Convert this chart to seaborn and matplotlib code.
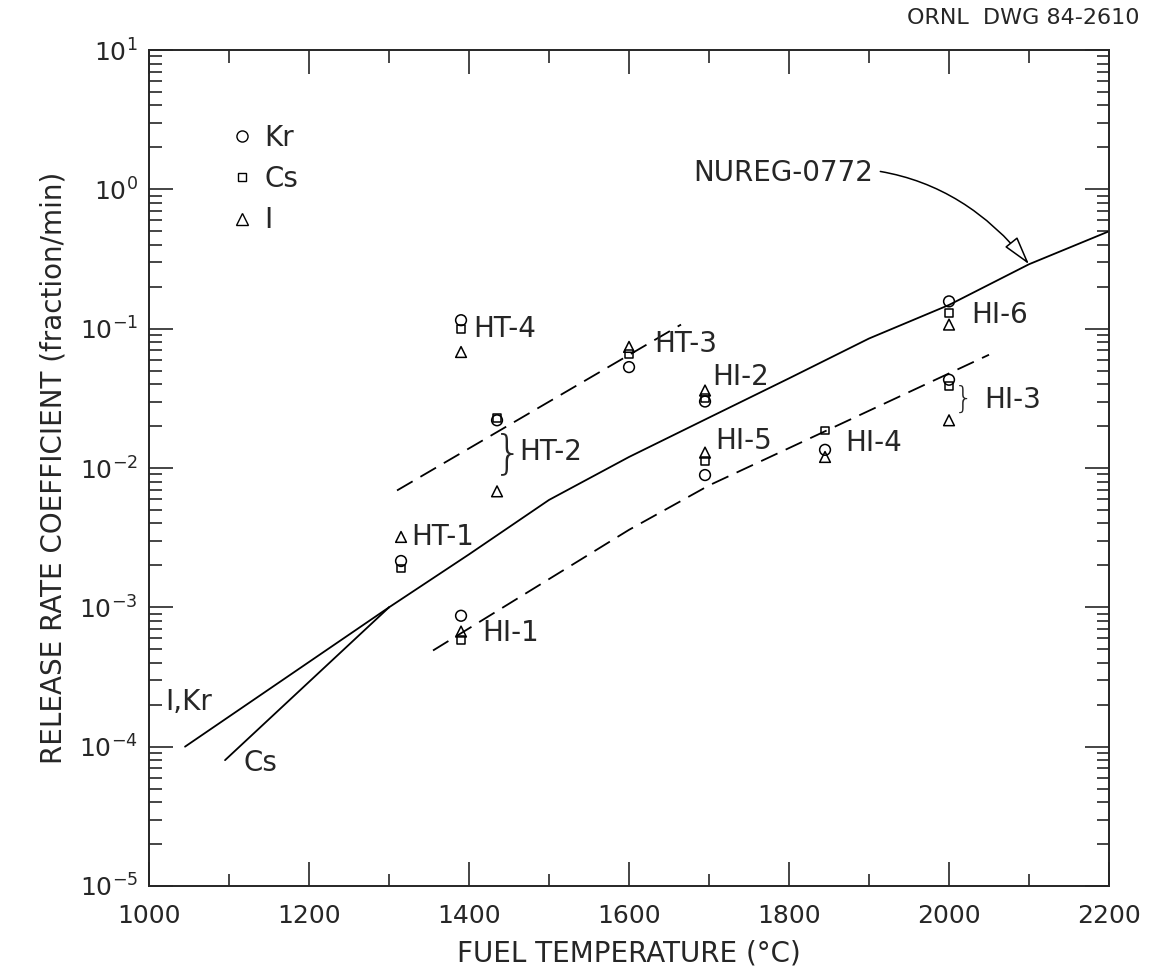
import numpy as np
import pandas as pd
import seaborn as sns
import matplotlib.pyplot as plt
from matplotlib.lines import Line2D
from matplotlib.ticker import MultipleLocator, FixedLocator

# curves (temperature in C, release rate coefficient in fraction/min)
nureg_t = [1300, 1400, 1500, 1600, 1700, 1800, 1900, 2000, 2100, 2200]
nureg_v = [1.0e-3, 2.4e-3, 5.9e-3, 1.2e-2, 2.3e-2, 4.4e-2, 8.5e-2, 0.148, 0.29, 0.50]
ikr_t = [1045, 1300]
ikr_v = [1.0e-4, 1.0e-3]
cs_t = [1095, 1300]
cs_v = [8.0e-5, 1.0e-3]
ht_dash_t = [1310, 1665]
ht_dash_v = [6.9e-3, 0.107]
hi_dash_t = [1355, 1600, 1700, 2050]
hi_dash_v = [4.9e-4, 3.6e-3, 7.5e-3, 6.5e-2]

# measured points per test
tests = ['HT-1', 'HT-4', 'HI-1', 'HT-2', 'HT-3', 'HI-2', 'HI-5', 'HI-4', 'HI-6', 'HI-3']
test_temp = [1315, 1390, 1390, 1435, 1600, 1695, 1695, 1845, 2000, 2000]
kr_rate = [2.15e-3, 0.115, 8.7e-4, 0.022, 0.053, 0.030, 0.0089, 0.0135, 0.157, 0.043]
cs_rate = [1.9e-3, 0.100, 5.8e-4, 0.023, 0.066, 0.032, 0.0112, 0.0186, 0.130, 0.039]
i_rate = [3.2e-3, 0.068, 6.7e-4, 6.8e-3, 0.074, 0.036, 0.0129, 0.012, 0.107, 0.022]

# test labels
label_x = [1328, 1405, 1416, 1463, 1632, 1704, 1708, 1870, 2028, 2044]
label_y = [3.2e-3, 0.10, 6.5e-4, 1.3e-2, 0.078, 0.045, 0.0155, 0.015, 0.126, 0.031]

xticks = [1000, 1200, 1400, 1600, 1800, 2000, 2200]

species_markers = {'Kr': 'o', 'Cs': 's', 'I': '^'}
species_size = {'Kr': 60, 'Cs': 32, 'I': 60}


def main():
    sns.set_style("ticks")
    plt.rcParams['font.family'] = ['DejaVu Sans']
    plt.rcParams['mathtext.fontset'] = 'dejavusans'

    pts = pd.DataFrame({'test': tests * 3,
                        'temp': test_temp * 3,
                        'rate': kr_rate + cs_rate + i_rate,
                        'species': ['Kr'] * len(tests) + ['Cs'] * len(tests) + ['I'] * len(tests)})

    fig = plt.figure(figsize=(11.58, 9.75), dpi=100)
    ax = fig.add_axes([0.1287, 0.0913, 0.8290, 0.8574])

    lw = 1.3
    sns.lineplot(x=nureg_t, y=nureg_v, ax=ax, color='black', lw=lw, estimator=None)
    sns.lineplot(x=ikr_t, y=ikr_v, ax=ax, color='black', lw=lw, estimator=None)
    sns.lineplot(x=cs_t, y=cs_v, ax=ax, color='black', lw=lw, estimator=None)
    sns.lineplot(x=ht_dash_t, y=ht_dash_v, ax=ax, color='black', lw=lw,
                 linestyle=(0, (10, 5)), estimator=None)
    sns.lineplot(x=hi_dash_t, y=hi_dash_v, ax=ax, color='black', lw=lw,
                 linestyle=(0, (10, 5)), estimator=None)

    for sp, mk in species_markers.items():
        sub = pts[pts['species'] == sp]
        sns.scatterplot(data=sub, x='temp', y='rate', ax=ax, marker=mk,
                        s=species_size[sp], facecolor='none', edgecolor='black',
                        linewidth=1.1, legend=False, zorder=3)

    ax.set_yscale('log')
    ax.set_xlim(1000, 2200)
    ax.set_ylim(1e-5, 1e1)
    ax.xaxis.set_major_locator(FixedLocator(xticks))
    ax.xaxis.set_minor_locator(MultipleLocator(100))
    ax.tick_params(which='both', direction='in', top=True, right=True, width=1.2)
    ax.tick_params(which='major', length=17, labelsize=18)
    ax.tick_params(axis='x', which='major', pad=13)
    ax.tick_params(axis='y', which='major', pad=8)
    ax.tick_params(which='minor', length=9)
    for s in ax.spines.values():
        s.set_linewidth(1.4)

    ax.set_xlabel('FUEL TEMPERATURE (°C)', fontsize=20, labelpad=8)
    ax.set_ylabel('RELEASE RATE COEFFICIENT (fraction/min)', fontsize=20, labelpad=8)

    # legend
    handles = [Line2D([], [], ls='none', marker=m, mfc='none', mec='black', ms=8 if k != 'Cs' else 6)
               for k, m in species_markers.items()]
    ax.legend(handles, list(species_markers.keys()), loc='upper left', bbox_to_anchor=(0.087, 0.912),
              frameon=False, fontsize=20, handlelength=0.7, handletextpad=0.45,
              labelspacing=0.48, borderpad=0, borderaxespad=0)

    for t, x, y in zip(tests, label_x, label_y):
        ax.text(x, y, t, fontsize=20, ha='left', va='center')

    ax.text(1449, 0.0125, '}', fontsize=34, ha='center', va='center', fontweight='light')
    ax.text(2018, 0.031, '}', fontsize=22, ha='center', va='center', fontweight='light')

    ax.text(1020, 2.1e-4, 'I,Kr', fontsize=20, ha='left', va='center')
    ax.text(1118, 7.6e-5, 'Cs', fontsize=20, ha='left', va='center')

    ax.annotate('NUREG-0772', xy=(2100, 0.29), xytext=(1680, 1.3), fontsize=20,
                ha='left', va='center',
                arrowprops=dict(arrowstyle='-|>,head_length=0.9,head_width=0.25', fc='white',
                                ec='black', lw=1.1, shrinkA=3, shrinkB=0,
                                connectionstyle='arc3,rad=-0.3'))

    fig.text(0.984, 0.982, 'ORNL  DWG 84-2610', ha='right', va='center', fontsize=16)

    plt.savefig('out.png', dpi=100)
    plt.close()


if __name__ == "__main__":
    main()
